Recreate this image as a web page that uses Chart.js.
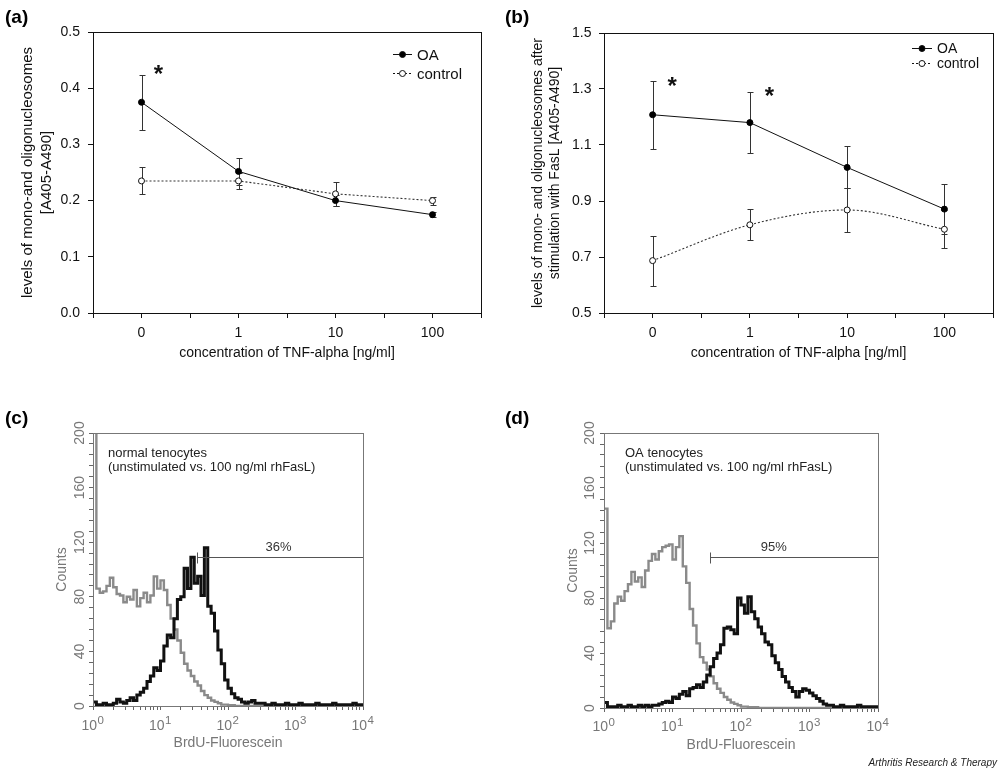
<!DOCTYPE html>
<html>
<head>
<meta charset="utf-8">
<script src="https://cdn.jsdelivr.net/npm/chart.js@4"></script>
<style>
  html, body { margin: 0; padding: 0; background: #fff; }
  body { width: 1000px; height: 770px; position: relative; overflow: hidden;
         font-family: "Liberation Sans", Arial, Helvetica, sans-serif; }
  .pane { position: absolute; width: 500px; height: 370px; }
  .pane canvas { display: block; }
  .lab { position: absolute; font-weight: bold; font-size: 19px; line-height: 19px; color: #000; }
  #credit { position: absolute; right: 3px; top: 757px; font-style: italic; font-size: 10px; line-height: 12px; color: #222; }
</style>
</head>
<body>
<div class="pane" style="left:0;top:0"><canvas id="ca" width="500" height="370"></canvas></div>
<div class="pane" style="left:500px;top:0"><canvas id="cb" width="500" height="370"></canvas></div>
<div class="pane" style="left:0;top:400px"><canvas id="cc" width="500" height="370"></canvas></div>
<div class="pane" style="left:500px;top:400px"><canvas id="cd" width="500" height="370"></canvas></div>
<div class="lab" style="left:5px;top:7px">(a)</div>
<div class="lab" style="left:505px;top:7px">(b)</div>
<div class="lab" style="left:5px;top:408px">(c)</div>
<div class="lab" style="left:505px;top:408px">(d)</div>
<div id="credit">Arthritis Research &amp; Therapy</div>
<script>
// ---------------- data ----------------
const categories = ['0', '1', '10', '100'];           // TNF-alpha [ng/ml]

// (a) mono-/oligonucleosomes [A405-A490]
const aOA       = [0.375, 0.252, 0.200, 0.175];
const aOAErr    = [0.049, 0.024, 0.010, 0.005];
const aCtrl     = [0.235, 0.235, 0.212, 0.200];
const aCtrlErr  = [0.024, 0.015, 0.021, 0.007];

// (b) after stimulation with FasL
const bOA       = [1.208, 1.180, 1.020, 0.871];
const bOAErr    = [0.121, 0.109, 0.075, 0.089];
const bCtrl     = [0.687, 0.815, 0.868, 0.799];
const bCtrlErr  = [0.089, 0.055, 0.077, 0.068];

// (c)/(d) flow-cytometry histograms, one count per channel (channel width 0.05 decade, 10^0 .. 10^4)
const decadeBase = '10';
const decadeExponents = ['0', '1', '2', '3', '4'];
const CH_STEP = 0.05;
const cUnstim = [250, 86, 83, 84, 88, 94, 87, 82, 81, 76, 80, 78, 85, 73, 79, 83, 76, 81, 95, 86,
                 92, 85, 74, 64, 56, 48, 39, 31, 26, 22, 18, 15, 11, 8, 6, 4, 3, 2, 1, 1,
                 0.5, 0.5, 0, 0, 0, 0, 0, 0, 0, 0, 0, 0, 0, 0, 0, 0, 0, 0, 0, 0,
                 0, 0, 0, 0, 0, 0, 0, 0, 0, 0, 0, 0, 0, 0, 0, 0, 0, 0, 0, 0, 0];
const cStim   = [3, 1, 1, 2, 1, 1, 2, 5, 3, 2, 4, 6, 4, 8, 10, 13, 18, 22, 28, 26,
                 33, 44, 52, 50, 64, 78, 80, 101, 86, 109, 90, 95, 81, 116, 73, 68, 55, 41, 31, 19,
                 13, 9, 6, 5, 3, 2, 3, 4, 2, 2, 2, 1, 1, 2, 1, 1, 1, 2, 1, 1,
                 1, 2, 1, 1, 1, 1, 2, 1, 1, 1, 1, 2, 1, 1, 1, 1, 1, 2, 1, 1, 1];
const dUnstim = [145, 58, 63, 76, 81, 78, 85, 90, 99, 92, 95, 88, 100, 107, 112, 108, 114, 117, 118, 119,
                 108, 117, 125, 103, 91, 72, 60, 47, 37, 33, 28, 23, 18, 14, 11, 8, 6, 4, 3, 2,
                 1, 1, 0.5, 0.5, 0.5, 0, 0, 0, 0, 0, 0, 0, 0, 0, 0, 0, 0, 0, 0, 0,
                 0, 0, 0, 0, 0, 0, 0, 0, 0, 0, 0, 0, 0, 0, 0, 0, 0, 0, 0, 0, 0];
const dStim   = [4, 1, 1, 1, 2, 1, 1, 2, 1, 1, 2, 1, 2, 1, 2, 2, 3, 4, 5, 4,
                 8, 7, 10, 12, 9, 14, 15, 17, 15, 19, 24, 30, 36, 40, 46, 58, 59, 57, 54, 80,
                 75, 69, 81, 70, 65, 59, 54, 48, 46, 38, 33, 28, 23, 19, 15, 12, 8, 12, 14, 13,
                 11, 9, 7, 5, 3, 2, 2, 1, 1, 2, 1, 1, 1, 1, 2, 1, 1, 1, 1, 1, 1];

// ---------------- helpers ----------------
const FAMILY = "'Liberation Sans', Arial, Helvetica, sans-serif";
Chart.defaults.font.family = FAMILY;
Chart.defaults.color = '#111';

const deco = {
  id: 'deco',
  beforeDatasetsDraw(chart, args, o) {
    const ctx = chart.ctx, ys = chart.scales.y;
    chart.data.datasets.forEach((ds, di) => {
      if (!ds.errors) return;
      const meta = chart.getDatasetMeta(di);
      ctx.save();
      ctx.strokeStyle = o.errColor || '#222';
      ctx.lineWidth = 1;
      meta.data.forEach((pt, i) => {
        const v = ds.data[i].y, e = ds.errors[i];
        const x = Math.round(pt.x) + 0.5;
        const yt = Math.round(ys.getPixelForValue(v + e)) + 0.5;
        const yb = Math.round(ys.getPixelForValue(v - e)) + 0.5;
        ctx.beginPath();
        ctx.moveTo(x, yt); ctx.lineTo(x, yb);
        ctx.moveTo(x - 3, yt); ctx.lineTo(x + 3, yt);
        ctx.moveTo(x - 3, yb); ctx.lineTo(x + 3, yb);
        ctx.stroke();
      });
      ctx.restore();
    });
  },
  afterDraw(chart, args, o) {
    const ctx = chart.ctx, ca = chart.chartArea, xs = chart.scales.x, ys = chart.scales.y;
    ctx.save();
    if (o.frame) {
      ctx.strokeStyle = o.frame; ctx.lineWidth = 1;
      ctx.strokeRect(Math.round(ca.left) + 0.5, Math.round(ca.top) + 0.5,
                     Math.round(ca.right) - Math.round(ca.left), Math.round(ca.bottom) - Math.round(ca.top));
    }
    (o.legend || []).forEach(it => {
      const ds = chart.data.datasets[it.ds];
      const y = it.y + 0.5;
      ctx.strokeStyle = '#111'; ctx.lineWidth = 1;
      ctx.setLineDash(ds.borderDash || []);
      ctx.beginPath(); ctx.moveTo(it.x1, y); ctx.lineTo(it.x2, y); ctx.stroke();
      ctx.setLineDash([]);
      ctx.beginPath(); ctx.arc((it.x1 + it.x2) / 2, y, 3, 0, Math.PI * 2);
      ctx.fillStyle = ds.pointBackgroundColor; ctx.fill(); ctx.stroke();
      ctx.fillStyle = '#111';
      ctx.font = o.legendSize + 'px ' + FAMILY;
      ctx.textAlign = 'left'; ctx.textBaseline = 'middle';
      ctx.fillText(ds.label, it.x2 + 5, y + 1);
    });
    (o.stars || []).forEach(s => {
      ctx.fillStyle = '#111';
      ctx.font = 'bold 24px ' + FAMILY;
      ctx.textAlign = 'center'; ctx.textBaseline = 'alphabetic';
      ctx.fillText('*', xs.getPixelForValue(s.x), ys.getPixelForValue(s.y) + 14);
    });
    if (o.gate) {
      const g = o.gate;
      const x0 = Math.round(xs.getPixelForValue(g.from)) + 0.5;
      const y0 = Math.round(ys.getPixelForValue(g.y)) + 0.5;
      ctx.strokeStyle = '#555'; ctx.lineWidth = 1;
      ctx.beginPath();
      ctx.moveTo(x0, y0); ctx.lineTo(ca.right, y0);
      ctx.moveTo(x0, y0 - 5); ctx.lineTo(x0, y0 + 6);
      ctx.stroke();
      ctx.fillStyle = '#333'; ctx.font = '13px ' + FAMILY;
      ctx.textAlign = 'center'; ctx.textBaseline = 'middle';
      ctx.fillText(g.text, xs.getPixelForValue(g.textX), ys.getPixelForValue(g.textY));
    }
    (o.notes || []).forEach(n => {
      ctx.fillStyle = '#222'; ctx.font = '13px ' + FAMILY;
      ctx.textAlign = 'left'; ctx.textBaseline = 'middle';
      ctx.fillText(n.text, ca.left + n.dx, ca.top + n.dy);
    });
    if (o.decades) {
      // log-axis labels 10^n with a real superscript exponent
      decadeExponents.forEach((e, d) => {
        const x = xs.getPixelForValue(Math.pow(10, d));
        const y = ca.bottom + o.decades.dy;
        ctx.fillStyle = '#777';
        ctx.textBaseline = 'middle';
        ctx.font = '14px ' + FAMILY;
        ctx.textAlign = 'right';
        ctx.fillText(decadeBase, x + 4, y);
        ctx.font = '11.5px ' + FAMILY;
        ctx.textAlign = 'left';
        ctx.fillText(e, x + 4.5, y - 5);
      });
    }
    ctx.restore();
  }
};

function pts(arr) { return arr.map((v, i) => ({ x: i, y: v })); }
function hist(arr) { return arr.map((v, i) => ({ x: Math.pow(10, i * CH_STEP), y: v })); }
function isWhole(v) { return Math.abs(v - Math.round(v)) < 1e-6; }

function doseChart(id, o) {
  return new Chart(document.getElementById(id), {
    type: 'line',
    data: {
      datasets: [
        { label: 'OA', data: pts(o.oa), errors: o.oaErr, borderColor: '#111', borderWidth: 1,
          pointRadius: 3, pointBackgroundColor: '#000', pointBorderColor: '#000', pointBorderWidth: 1, tension: 0 },
        { label: 'control', data: pts(o.ctrl), errors: o.ctrlErr, borderColor: '#333', borderWidth: 1.1,
          borderDash: [2, 2], pointRadius: 3, pointBackgroundColor: '#fff', pointBorderColor: '#111',
          pointBorderWidth: 1, cubicInterpolationMode: o.ctrlMode, tension: 0 }
      ]
    },
    options: {
      responsive: false, animation: false, events: [],
      layout: { padding: { left: 0, top: o.padTop, right: o.padRight, bottom: 0 } },
      plugins: {
        legend: { display: false }, tooltip: { enabled: false },
        deco: { frame: '#111', errColor: '#333', legend: o.legend, legendSize: o.legendSize, stars: o.stars }
      },
      scales: {
        x: {
          type: 'linear', min: -0.5, max: 3.5,
          ticks: { stepSize: 0.5, autoSkip: false, maxRotation: 0, padding: 7, color: '#111', font: { size: 14 },
                   callback: v => (isWhole(v) && categories[Math.round(v)] !== undefined) ? categories[Math.round(v)] : '' },
          grid: { drawOnChartArea: false, drawTicks: true, tickLength: 5, tickColor: '#111', color: '#111' },
          border: { display: true, color: '#111', width: 1 },
          title: { display: true, text: 'concentration of TNF-alpha [ng/ml]', color: '#111', font: { size: 14 },
                   padding: { top: 0, bottom: 8 } },
          afterFit: s => { s.height = 57; }
        },
        y: {
          type: 'linear', min: o.yMin, max: o.yMax,
          ticks: { stepSize: o.yStep, autoSkip: false, padding: o.yTickPad, color: '#111', font: { size: 14 },
                   callback: v => v.toFixed(1) },
          grid: { drawOnChartArea: false, drawTicks: true, tickLength: 5, tickColor: '#111', color: '#111' },
          border: { display: true, color: '#111', width: 1 },
          title: { display: true, text: o.yTitle, color: '#111', font: { size: o.yTitleSize, lineHeight: o.yTitleLH },
                   padding: { top: o.yTitlePad, bottom: 0 } },
          afterFit: s => { s.width = o.yW; }
        }
      }
    },
    plugins: [deco]
  });
}

function histChart(id, o) {
  return new Chart(document.getElementById(id), {
    type: 'line',
    data: {
      datasets: [
        { label: '100 ng/ml rhFasL', data: hist(o.stim), borderColor: '#111', borderWidth: 3,
          stepped: true, pointRadius: 0, fill: false },
        { label: 'unstimulated', data: hist(o.unstim), borderColor: '#8a8a8a', borderWidth: 2.4,
          stepped: true, pointRadius: 0, fill: false }
      ]
    },
    options: {
      responsive: false, animation: false, events: [],
      layout: { padding: { left: 0, top: 33, right: o.padRight, bottom: 0 } },
      plugins: {
        legend: { display: false }, tooltip: { enabled: false },
        deco: { frame: '#777', gate: o.gate, notes: o.notes, decades: { dy: o.decadeDy } }
      },
      scales: {
        x: {
          type: 'logarithmic', min: 1, max: 10000,
          afterBuildTicks: s => {
            const t = [];
            for (let d = 0; d < 4; d++) for (let m = 1; m < 10; m++) t.push({ value: m * Math.pow(10, d) });
            t.push({ value: 10000 });
            s.ticks = t;
          },
          ticks: { autoSkip: false, maxRotation: 0, padding: 6, color: '#777', font: { size: 14 },
                   callback: () => '' },
          grid: { drawOnChartArea: false, drawTicks: true, tickLength: 4, tickColor: '#666', color: '#666' },
          border: { display: true, color: '#666', width: 1 },
          title: { display: true, text: 'BrdU-Fluorescein', color: '#777', font: { size: 14 },
                   padding: { top: 0, bottom: o.xTitlePad } },
          afterFit: s => { s.height = o.xH; }
        },
        y: {
          type: 'linear', min: 0, max: 200,
          ticks: { stepSize: 8, autoSkip: false, minRotation: 90, maxRotation: 90, crossAlign: 'center',
                   padding: o.yTickPad, color: '#777', font: { size: 14 },
                   callback: v => (Math.round(v) % 40 === 0) ? String(Math.round(v)) : '' },
          grid: { drawOnChartArea: false, drawTicks: true, tickLength: 4, tickColor: '#666', color: '#666' },
          border: { display: true, color: '#666', width: 1 },
          title: { display: true, text: 'Counts', color: '#777', font: { size: 14 },
                   padding: { top: o.yTitlePad, bottom: 0 } },
          afterFit: s => { s.width = o.yW; }
        }
      }
    },
    plugins: [deco]
  });
}

// ---------------- charts ----------------
doseChart('ca', {
  oa: aOA, oaErr: aOAErr, ctrl: aCtrl, ctrlErr: aCtrlErr, ctrlMode: 'default',
  yMin: 0, yMax: 0.5, yStep: 0.1, yTickPad: 8, yW: 93, padTop: 32, padRight: 19,
  yTitle: ['levels of mono-and oligonucleosomes', '[A405-A490]'], yTitleSize: 15, yTitleLH: 19 / 15, yTitlePad: 18.5,
  legend: [{ ds: 0, x1: 393, x2: 412, y: 54 }, { ds: 1, x1: 393, x2: 412, y: 73 }], legendSize: 15,
  stars: [{ x: 0.175, y: 0.436 }]
});

doseChart('cb', {
  oa: bOA, oaErr: bOAErr, ctrl: bCtrl, ctrlErr: bCtrlErr, ctrlMode: 'monotone',
  yMin: 0.5, yMax: 1.5, yStep: 0.2, yTickPad: 7.5, yW: 104, padTop: 33, padRight: 2,
  yTitle: ['levels of mono- and oligonucleosomes after', 'stimulation with FasL [A405-A490]'], yTitleSize: 14, yTitleLH: 17 / 14, yTitlePad: 29.5,
  legend: [{ ds: 0, x1: 412, x2: 432, y: 48 }, { ds: 1, x1: 412, x2: 432, y: 63 }], legendSize: 14,
  stars: [{ x: 0.2, y: 1.332 }, { x: 1.2, y: 1.296 }]
});

histChart('cc', {
  stim: cStim, unstim: cUnstim, padRight: 137, xH: 64, xTitlePad: 18, yW: 93, yTickPad: -3, yTitlePad: 53.6,
  decadeDy: 20,
  gate: { from: 34.4, y: 109, text: '36%', textX: 562, textY: 116.5 },
  notes: [{ text: 'normal tenocytes', dx: 15, dy: 20 }, { text: '(unstimulated vs. 100 ng/ml rhFasL)', dx: 15, dy: 34 }]
});

histChart('cd', {
  stim: dStim, unstim: dUnstim, padRight: 122, xH: 62, xTitlePad: 16, yW: 104, yTickPad: -1.4, yTitlePad: 64.3,
  decadeDy: 19.5,
  gate: { from: 35.5, y: 109.5, text: '95%', textX: 302, textY: 116.5 },
  notes: [{ text: 'OA tenocytes', dx: 21, dy: 20 }, { text: '(unstimulated vs. 100 ng/ml rhFasL)', dx: 21, dy: 34 }]
});
</script>
</body>
</html>
